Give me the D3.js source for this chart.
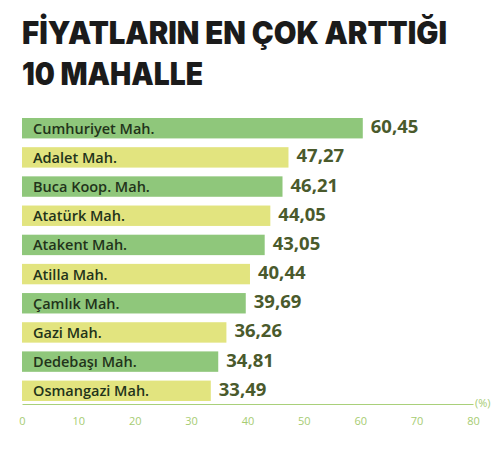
<!DOCTYPE html>
<html>
<head>
<meta charset="utf-8">
<script src="https://cdn.jsdelivr.net/npm/d3@7"></script>
<style>
body { margin: 0; background: #fff; }
</style>
</head>
<body>
<svg width="500" height="466"></svg>
<script>
var titleLines = ["FİYATLARIN EN ÇOK ARTTIĞI", "10 MAHALLE"];
var neighbourhoods = ["Cumhuriyet Mah.", "Adalet Mah.", "Buca Koop. Mah.", "Atatürk Mah.", "Atakent Mah.",
    "Atilla Mah.", "Çamlık Mah.", "Gazi Mah.", "Dedebaşı Mah.", "Osmangazi Mah."];
var increases = [60.45, 47.27, 46.21, 44.05, 43.05, 40.44, 39.69, 36.26, 34.81, 33.49];
var ticks = [0, 10, 20, 30, 40, 50, 60, 70, 80];
var unitLabel = "(%)";

var svg = d3.select("svg");
var barColors = ["#8fc77b", "#e2e47f"];

var x = d3.scaleLinear()
    .domain([0, 80])
    .range([22, 473]);
var y = d3.scaleBand()
    .domain(neighbourhoods)
    .range([118, 401])
    .paddingInner(0.3);

var fmt = function(v) { return v.toFixed(2).replace(".", ","); };

svg.selectAll(".title")
    .data(titleLines)
    .enter()
    .append("text")
    .attr("class", "title")
    .attr("x", 22)
    .attr("y", function(d, i) { return 44 + i * 41; })
    .attr("textLength", function(d, i) { return i == 0 ? 425 : 181; })
    .attr("lengthAdjust", "spacingAndGlyphs")
    .style("font-family", "Inter, 'Noto Sans', sans-serif")
    .style("font-weight", 900)
    .style("font-size", "31px")
    .attr("fill", "#1b1b1b")
    .text(function(d) { return d; });

var rows = svg.selectAll(".row")
    .data(neighbourhoods)
    .enter()
    .append("g")
    .attr("class", "row");

rows.append("rect")
    .attr("x", x(0))
    .attr("y", function(d) { return y(d); })
    .attr("width", function(d, i) { return x(increases[i]) - x(0); })
    .attr("height", y.bandwidth())
    .attr("fill", function(d, i) { return barColors[i % 2]; });

rows.append("text")
    .attr("x", x(0) + 11)
    .attr("y", function(d) { return y(d) + y.bandwidth() / 2 + 5.5; })
    .style("font-family", "'Open Sans', 'Noto Sans', sans-serif")
    .style("font-weight", 600)
    .style("font-size", "14.5px")
    .attr("fill", "#22331a")
    .text(function(d) { return d; });

rows.append("text")
    .attr("x", function(d, i) { return x(increases[i]) + 8; })
    .attr("y", function(d) { return y(d) + y.bandwidth() / 2 + 5; })
    .style("font-family", "'Open Sans', 'Noto Sans', sans-serif")
    .style("font-weight", 700)
    .style("font-size", "18.5px")
    .attr("fill", "#4a5a2c")
    .text(function(d, i) { return fmt(increases[i]); });

var xAxis = d3.axisBottom(x)
    .tickValues(ticks)
    .tickSize(0)
    .tickPadding(13);

var axis = svg.append("g")
    .attr("class", "x axis")
    .attr("transform", "translate(0,404)")
    .call(xAxis);
axis.select(".domain").attr("stroke", "#a9d07a").attr("stroke-width", 1.2);
axis.selectAll("text")
    .style("font-family", "'Open Sans', 'Noto Sans', sans-serif")
    .style("font-size", "11px")
    .attr("fill", "#a6cc72");

svg.append("text")
    .attr("x", x(80) + 2)
    .attr("y", 407)
    .style("font-family", "'Open Sans', 'Noto Sans', sans-serif")
    .style("font-size", "11px")
    .attr("fill", "#a6cc72")
    .text(unitLabel);
</script>
</body>
</html>
